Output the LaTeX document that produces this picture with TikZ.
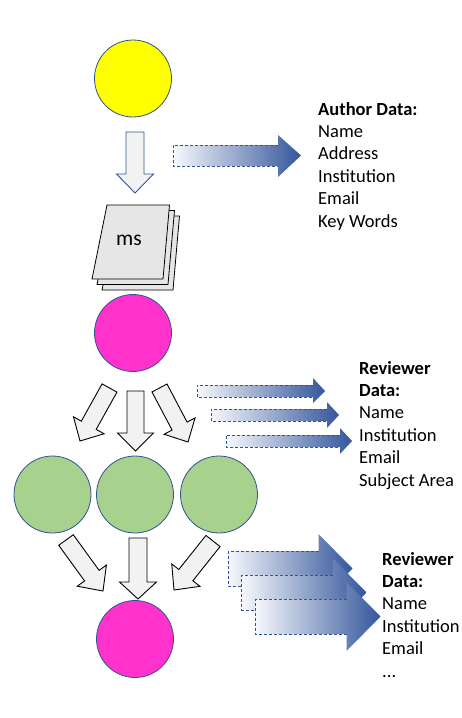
\documentclass[tikz,border=0pt]{standalone}
\usepackage{fontspec}
\setmainfont{Carlito}
\usetikzlibrary{calc}
\definecolor{ylw}{RGB}{255,255,0}
\definecolor{mag}{RGB}{255,51,204}
\definecolor{grn}{RGB}{169,209,142}
\definecolor{cedge}{RGB}{47,82,143}
\definecolor{afill}{RGB}{242,242,242}
\definecolor{sheet}{RGB}{231,230,230}
\definecolor{gstart}{RGB}{246,248,252}
\definecolor{gend}{RGB}{52,86,155}
\definecolor{dashc}{RGB}{47,85,151}
\tikzset{
  circ/.style={circle,draw=cedge,line width=0.8pt,minimum size=77pt,inner sep=0pt},
  txt/.style={anchor=base west,inner sep=0pt,font=\fontsize{18.5}{22.4}\selectfont},
  btxt/.style={txt,font=\fontsize{18.5}{22.4}\selectfont\bfseries},
  blockarr/.style={fill=afill,draw=black,line width=0.9pt,line join=miter},
  gradarr/.style={left color=gstart,right color=gend,draw=none},
  dashline/.style={draw=dashc,line width=0.8pt,dash pattern=on 3pt off 2pt},
  sheetbox/.style={fill=sheet,draw=black,line width=0.8pt}
}
% block arrow from tail #1 to tip #2, shaft half width #3, head half width #4, head length #5, style #6
\newcommand\myblockarrow[6]{%
  \path[#6] ($(#1)!#3!90:(#2)$) -- ($($(#2)!#5!(#1)$)!#3!90:(#2)$)
     -- ($($(#2)!#5!(#1)$)!#4!90:(#2)$) -- (#2)
     -- ($($(#2)!#5!(#1)$)!#4!-90:(#2)$) -- ($($(#2)!#5!(#1)$)!#3!-90:(#2)$)
     -- ($(#1)!#3!-90:(#2)$) -- cycle;}
% gradient arrow: left x #1, shaft top #2, shaft bottom #3, head start #4, head top #5, head bottom #6, tip x #7
\newcommand\mygradarrow[7]{%
  \path[gradarr] (#1,#2) -- (#4,#2) -- (#4,#5) -- (#7,{(#2+#3)/2}) -- (#4,#6) -- (#4,#3) -- (#1,#3) -- cycle;
  \draw[dashline] (#4,#2) -- (#1,#2) -- (#1,#3) -- (#4,#3);}
\begin{document}
\begin{tikzpicture}[x=1pt,y=-1pt]
\useasboundingbox (0,0) rectangle (462,718);
% circles
\node[circ,fill=ylw] (yc) at (133,78.5) {};
\node[circ,fill=mag] (m1) at (133,333) {};
\node[circ,fill=grn] (g1) at (52.5,494.5) {};
\node[circ,fill=grn] (g2) at (135,494.5) {};
\node[circ,fill=grn] (g3) at (219,494.5) {};
\node[circ,fill=mag] (m2) at (135,639) {};
% manuscript stack
\foreach \d in {10,5,0}{
  \path[sheetbox] ({107+\d},{205+1.1*\d}) -- ({169.5+\d},{205+1.1*\d}) -- ({163+\d},{279+1.1*\d}) -- ({92+\d},{279+1.1*\d}) -- cycle;
}
\node[inner sep=0pt,font=\fontsize{21.5}{26}\selectfont] (ms) at (129,240) {ms};
% block arrows
\coordinate (t0) at (135,132); \coordinate (h0) at (135,193);
\myblockarrow{t0}{h0}{9pt}{18.5pt}{19pt}{blockarr,draw=dashc}
\coordinate (t1) at (109.5,388); \coordinate (h1) at (80,441);
\coordinate (t2) at (135.5,391); \coordinate (h2) at (135.5,451);
\coordinate (t3) at (159.5,388); \coordinate (h3) at (188,442);
\myblockarrow{t1}{h1}{8.5pt}{17.5pt}{18pt}{blockarr}
\myblockarrow{t2}{h2}{8.5pt}{18pt}{18pt}{blockarr}
\myblockarrow{t3}{h3}{8.5pt}{17.5pt}{18pt}{blockarr}
\coordinate (t4) at (66,540); \coordinate (h4) at (103,591);
\coordinate (t5) at (138,538); \coordinate (h5) at (138,599);
\coordinate (t6) at (213,541); \coordinate (h6) at (174,590);
\myblockarrow{t4}{h4}{9pt}{18pt}{19pt}{blockarr}
\myblockarrow{t5}{h5}{9pt}{18.5pt}{17pt}{blockarr}
\myblockarrow{t6}{h6}{9pt}{18pt}{19pt}{blockarr}
% gradient arrows
\mygradarrow{173}{145}{166}{278}{135}{177}{301}
\mygradarrow{197}{385}{397}{313}{378}{403}{325}
\mygradarrow{211}{409}{421}{327}{402}{428}{339}
\mygradarrow{226}{435}{447}{340}{428}{454}{352}
\mygradarrow{228}{551}{586}{318.5}{534}{603}{352.5}
\mygradarrow{241.5}{575}{610}{332.5}{558}{627}{366.5}
\mygradarrow{255}{599}{634}{346.5}{582}{651}{380.5}
% texts
\node[btxt] (a0) at (318,115) {Author Data:};
\node[txt] (a1) at (318,137.4) {Name};
\node[txt] (a2) at (318,159.8) {Address};
\node[txt] (a3) at (318,182.2) {Institution};
\node[txt] (a4) at (318,204.6) {Email};
\node[txt] (a5) at (318,227) {Key Words};
\node[btxt] (r0) at (359,374) {Reviewer};
\node[btxt] (r1) at (359,396.4) {Data:};
\node[txt] (r2) at (359,418.8) {Name};
\node[txt] (r3) at (359,441.2) {Institution};
\node[txt] (r4) at (359,463.6) {Email};
\node[txt] (r5) at (359,486) {Subject Area};
\node[btxt] (s0) at (382,565) {Reviewer};
\node[btxt] (s1) at (382,587.4) {Data:};
\node[txt] (s2) at (382,609.8) {Name};
\node[txt] (s3) at (382,632.2) {Institution};
\node[txt] (s4) at (382,654.6) {Email};
\node[txt] (s5) at (382,677) {...};
\end{tikzpicture}
\end{document}
